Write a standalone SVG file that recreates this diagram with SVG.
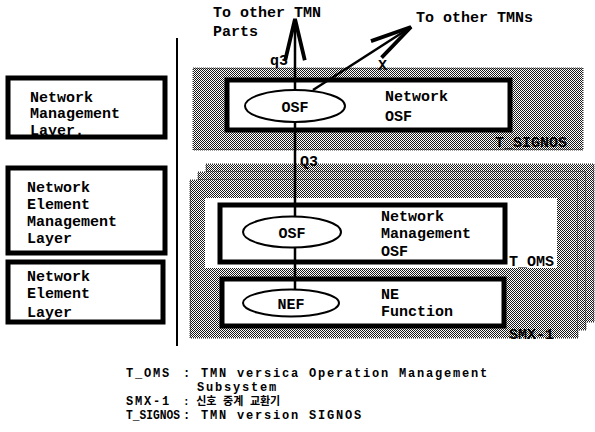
<svg xmlns="http://www.w3.org/2000/svg" width="595" height="432" viewBox="0 0 595 432">
<style>
text{font-family:"Liberation Mono","Noto Sans CJK KR",monospace;font-size:15px;font-weight:bold;fill:#000}
.box{fill:none;stroke:#000;stroke-width:5}
.wbox{fill:#fff;stroke:none}
.shade{fill:url(#dots);stroke:#333;stroke-width:1;stroke-dasharray:1 1}
.ell{fill:#fff;stroke:#000;stroke-width:2}
.conn{fill:none;stroke:#000;stroke-width:2.5}
.leg{font-size:12px;letter-spacing:1.8px}
</style>
<defs>
<pattern id="dots" width="2" height="2" patternUnits="userSpaceOnUse">
<rect width="2" height="2" fill="#fff"/>
<rect width="1" height="1" fill="#1a1a1a"/>
<rect x="1" y="1" width="1" height="1" fill="#1a1a1a"/>
</pattern>
<marker id="arr" markerUnits="userSpaceOnUse" markerWidth="50" markerHeight="30" refX="0" refY="0" viewBox="-42 -12 46 24" orient="auto" overflow="visible">
<path d="M-38,-9 L0,0 L-38,9" fill="none" stroke="#000" stroke-width="3.5" stroke-linejoin="miter"/>
</marker>
</defs>
<rect width="595" height="432" fill="#fff"/>

<line x1="177" y1="38" x2="177" y2="346" stroke="#000" stroke-width="2"/>

<g id="layer-nml">
<rect class="wbox" x="8" y="78" width="157" height="60"/>
<text x="30" y="102">Network</text>
<text x="30" y="118">Management</text>
<text x="30" y="135">Layer.</text>
<rect class="box" x="8" y="78" width="157" height="59"/>
</g>
<g id="layer-neml">
<rect class="wbox" x="8" y="168" width="157" height="85"/>
<text x="27" y="192">Network</text>
<text x="27" y="209">Element</text>
<text x="27" y="226">Management</text>
<text x="27" y="243">Layer</text>
<rect class="box" x="8" y="168" width="157" height="85"/>
</g>
<g id="layer-nel">
<rect class="wbox" x="8" y="262" width="155" height="60"/>
<text x="27" y="281">Network</text>
<text x="27" y="298">Element</text>
<text x="27" y="317">Layer</text>
<rect class="box" x="8" y="262" width="155" height="60"/>
</g>

<g id="t-signos">
<rect class="shade" x="193" y="68" width="390" height="82"/>
<rect class="wbox" x="227" y="80" width="283" height="50"/>
<text x="385" y="101">Network</text>
<text x="385" y="121">OSF</text>
<rect class="box" x="227" y="80" width="283" height="50"/>
<text x="495" y="147">T_SIGNOS</text>
</g>

<g id="smx-1">
<rect class="shade" x="206" y="164" width="388" height="158"/>
<rect class="shade" x="198" y="172" width="388" height="158"/>
<rect class="shade" x="190" y="180" width="388" height="158"/>
<text x="509" y="339">SMX-1</text>
</g>
<g id="t-oms">
<rect class="wbox" x="205" y="198" width="352" height="70"/>
<text x="509" y="266">T_OMS</text>
</g>
<g id="nm-osf">
<rect class="wbox" x="220" y="205" width="285" height="57"/>
<text x="381" y="221">Network</text>
<text x="381" y="238">Management</text>
<text x="381" y="256">OSF</text>
<rect class="box" x="220" y="205" width="285" height="57"/>
</g>
<g id="ne-function">
<rect class="wbox" x="222" y="279" width="282" height="47"/>
<text x="381" y="299">NE</text>
<text x="381" y="316">Function</text>
<rect class="box" x="222" y="279" width="282" height="47"/>
</g>

<g id="connectors">
<line class="conn" x1="295" y1="292" x2="295" y2="19" marker-end="url(#arr)"/>
<line class="conn" x1="313" y1="90" x2="411" y2="27" marker-end="url(#arr)"/>
<text x="213" y="17">To other TMN</text>
<text x="213" y="36">Parts</text>
<text x="416" y="22">To other TMNs</text>
<text x="270" y="65">q3</text>
<text x="378" y="70">X</text>
<text x="300" y="166">Q3</text>
</g>

<g id="osf-top">
<ellipse class="ell" cx="295" cy="106" rx="50" ry="16"/>
<text x="295" y="112" text-anchor="middle">OSF</text>
</g>
<g id="osf-mid">
<ellipse class="ell" cx="292" cy="232" rx="49" ry="15.5"/>
<text x="292" y="238" text-anchor="middle">OSF</text>
</g>
<g id="nef">
<ellipse class="ell" cx="291" cy="303" rx="48" ry="13.5"/>
<text x="291" y="309" text-anchor="middle">NEF</text>
</g>

<g id="legend">
<text class="leg" x="126" y="377">T_OMS</text>
<text class="leg" x="183" y="377">: TMN versica Operation Management</text>
<text class="leg" x="197" y="391">Subsystem</text>
<text class="leg" x="126" y="405">SMX-1</text>
<text class="leg" x="183" y="405" style="letter-spacing:0;font-size:11px">: 신호 중계 교환기</text>
<text class="leg" x="126" y="419" textLength="54" lengthAdjust="spacingAndGlyphs" style="letter-spacing:0">T_SIGNOS</text>
<text class="leg" x="183" y="419">: TMN version SIGNOS</text>
</g>
</svg>
